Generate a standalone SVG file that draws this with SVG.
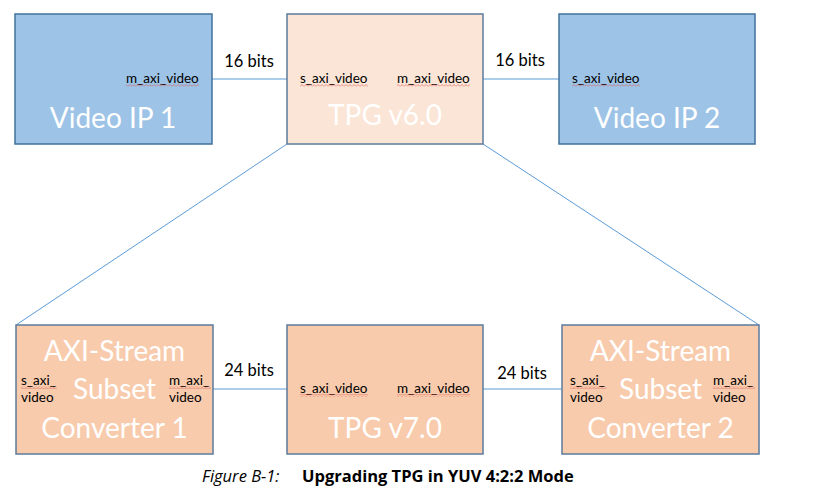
<svg xmlns="http://www.w3.org/2000/svg" width="814" height="498" viewBox="0 0 814 498">
<defs>
<pattern id="squig" x="0" y="0" width="4" height="3" patternUnits="userSpaceOnUse">
<path d="M0,2.5 L2,0.5 L4,2.5" fill="none" stroke="#D9534F" stroke-width="0.8"/>
</pattern>
</defs>
<style>
.blue{fill:#9DC3E6;stroke:#41719C;stroke-width:1.5}
.peach{fill:#FBE5D6;stroke:#5B7B9C;stroke-width:1.5}
.orange{fill:#F8CBAD;stroke:#5B7B9C;stroke-width:1.5}
.big{font-family:Lato,"Liberation Sans",sans-serif;font-size:28px;fill:#ffffff;text-anchor:middle}
.sm{font-family:Lato,"Liberation Sans",sans-serif;font-size:13.5px;fill:#000}
.bits{font-family:Lato,"Liberation Sans",sans-serif;font-size:16.5px;fill:#000;text-anchor:middle}
.wire{stroke:#5B9BD5;stroke-width:1;fill:none}
.cap{font-family:"Open Sans","Liberation Sans",sans-serif;font-size:16.5px;fill:#000}
.sq{fill:url(#squig);opacity:0.8}
</style>
<rect width="814" height="498" fill="#fff"/>
<g id="connectors">
<line class="wire" x1="212" y1="79" x2="287" y2="79"/>
<line class="wire" x1="483" y1="79" x2="559" y2="79"/>
<line class="wire" x1="213" y1="389" x2="287" y2="389"/>
<line class="wire" x1="483" y1="389" x2="562" y2="389"/>
<line class="wire" x1="287" y1="144" x2="16" y2="325"/>
<line class="wire" x1="483" y1="144" x2="759" y2="325"/>
<text class="bits" x="249" y="67">16 bits</text>
<text class="bits" x="520" y="66">16 bits</text>
<text class="bits" x="249" y="376">24 bits</text>
<text class="bits" x="522" y="379">24 bits</text>
</g>
<g id="video-ip-1">
<rect class="blue" x="15" y="14" width="197" height="130"/>
<text class="sm" x="126" y="83">m_axi_video</text>
<rect class="sq" x="126" y="84" width="73" height="3"/>
<text class="big" x="113" y="128">Video IP 1</text>
</g>
<g id="tpg-v6">
<rect class="peach" x="287" y="14" width="196" height="130"/>
<text class="sm" x="300" y="83">s_axi_video</text>
<rect class="sq" x="300" y="84" width="68" height="3"/>
<text class="sm" x="397" y="83">m_axi_video</text>
<rect class="sq" x="397" y="84" width="73" height="3"/>
<text class="big" x="385" y="125">TPG v6.0</text>
</g>
<g id="video-ip-2">
<rect class="blue" x="559" y="14" width="196" height="130"/>
<text class="sm" x="572" y="83">s_axi_video</text>
<rect class="sq" x="572" y="84" width="68" height="3"/>
<text class="big" x="657" y="128">Video IP 2</text>
</g>
<g id="converter-1">
<rect class="orange" x="16" y="325" width="197" height="129"/>
<text class="big" x="114.5" y="361">AXI-Stream</text>
<text class="big" x="114.5" y="399">Subset</text>
<text class="big" x="114.5" y="438">Converter 1</text>
<text class="sm" x="21" y="385">s_axi_</text>
<rect class="sq" x="21" y="386" width="36" height="3"/>
<text class="sm" x="21" y="402">video</text>
<text class="sm" x="169" y="385">m_axi_</text>
<rect class="sq" x="169" y="386" width="42" height="3"/>
<text class="sm" x="169" y="402">video</text>
</g>
<g id="tpg-v7">
<rect class="orange" x="287" y="325" width="196" height="129"/>
<text class="sm" x="300" y="393">s_axi_video</text>
<rect class="sq" x="300" y="394" width="68" height="3"/>
<text class="sm" x="397" y="393">m_axi_video</text>
<rect class="sq" x="397" y="394" width="73" height="3"/>
<text class="big" x="385" y="438">TPG v7.0</text>
</g>
<g id="converter-2">
<rect class="orange" x="562" y="325" width="197" height="129"/>
<text class="big" x="660.5" y="361">AXI-Stream</text>
<text class="big" x="660.5" y="399">Subset</text>
<text class="big" x="660.5" y="438">Converter 2</text>
<text class="sm" x="570" y="385">s_axi_</text>
<rect class="sq" x="570" y="386" width="36" height="3"/>
<text class="sm" x="570" y="402">video</text>
<text class="sm" x="713" y="385">m_axi_</text>
<rect class="sq" x="713" y="386" width="42" height="3"/>
<text class="sm" x="713" y="402">video</text>
</g>
<g id="caption">
<text class="cap" x="202" y="482" font-style="italic">Figure B-1:</text>
<text class="cap" x="302" y="482" font-weight="bold">Upgrading TPG in YUV 4:2:2 Mode</text>
</g>
</svg>
